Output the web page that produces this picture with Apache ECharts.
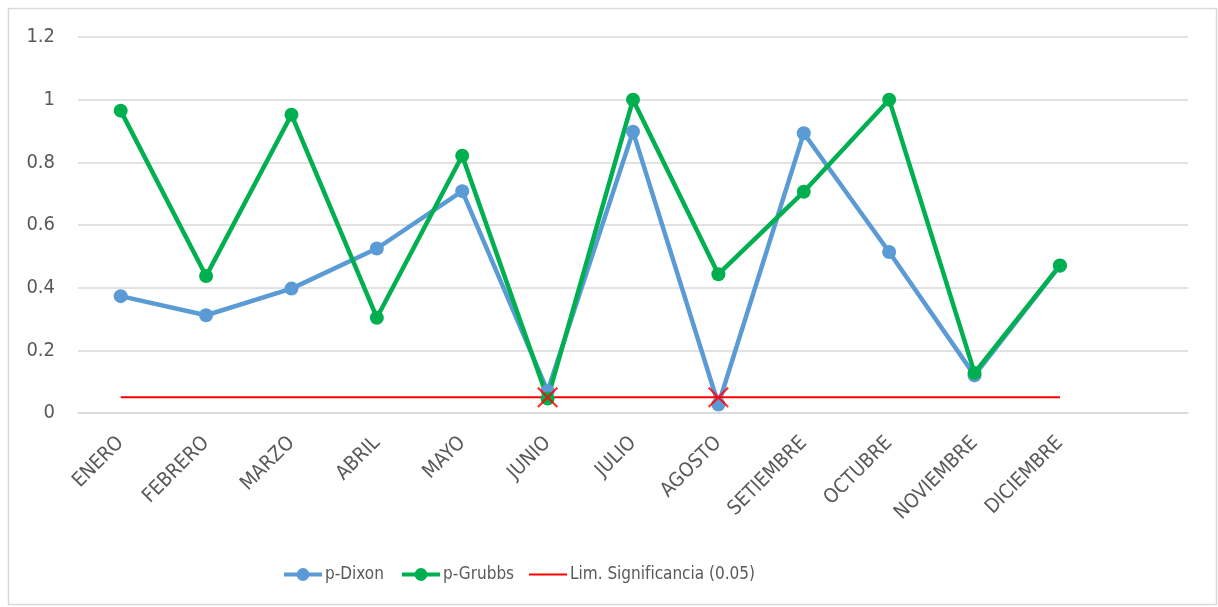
<!DOCTYPE html>
<html lang="es">
  <head>
    <meta charset="UTF-8">
    <title>p-Dixon / p-Grubbs</title>
    <script src="https://cdn.jsdelivr.net/npm/echarts@6/dist/echarts.min.js"></script>
    <style>
      html, body { margin: 0; padding: 0; background: #fff; }
      #main { width: 1218px; height: 607px; }
    </style>
  </head>
  <body>
    <div id="main"></div>
    <script type="text/javascript">
      // meses (la última categoría queda vacía, como en el gráfico original)
      var meses = ['ENERO', 'FEBRERO', 'MARZO', 'ABRIL', 'MAYO', 'JUNIO', 'JULIO',
                   'AGOSTO', 'SETIEMBRE', 'OCTUBRE', 'NOVIEMBRE', 'DICIEMBRE', ''];

      var pDixon   = [0.373, 0.312, 0.397, 0.525, 0.708, 0.07, 0.898, 0.027, 0.893, 0.514, 0.12, 0.47];
      var pGrubbs  = [0.965, 0.437, 0.952, 0.304, 0.821, 0.046, 1.0, 0.443, 0.706, 1.0, 0.128, 0.471];
      var limite   = [0.05, 0.05, 0.05, 0.05, 0.05, 0.05, 0.05, 0.05, 0.05, 0.05, 0.05, 0.05];
      // meses marcados como atípicos (cruz roja sobre el límite)
      var atipicos = [null, null, null, null, null, 0.05, null, 0.05, null, null, null, null];

      var fuente = "'Liberation Sans Narrow', 'DejaVu Sans Condensed', 'Noto Sans', sans-serif";
      var gris = '#595959';
      var cruz = 'path://M1.5,0L10,8.5L18.5,0L20,1.5L11.5,10L20,18.5L18.5,20L10,11.5L1.5,20L0,18.5L8.5,10L0,1.5Z';
      // sólo una línea roja en la leyenda (los M extremos fijan la caja 38x16)
      var iconoLimite = 'path://M0,0M0,7L38,7L38,9L0,9ZM38,16';

      // una leyenda por serie para colocarlas como en el original
      function leyenda(item, x) {
        return {
          data: [item],
          left: x,
          top: 566,
          padding: 0,
          itemWidth: 38,
          itemHeight: 16,
          lineStyle: { width: 4 },
          textStyle: { color: gris, fontSize: 17, fontFamily: fuente, padding: [0, 0, 0, -2] }
        };
      }

      var myChart = echarts.init(document.getElementById('main'));

      var option = {
        backgroundColor: '#fff',
        animation: false,
        textStyle: { fontFamily: fuente },
        graphic: [{
          type: 'rect',
          shape: { x: 8.5, y: 8.5, width: 1208, height: 596 },
          style: { fill: 'none', stroke: '#d9d9d9', lineWidth: 1.5 },
          silent: true
        }],
        grid: { left: 78, right: 30, top: 37, bottom: 194 },
        legend: [
          leyenda('p-Dixon', 282),
          leyenda('p-Grubbs', 400),
          leyenda({ name: 'Lim. Significancia (0.05)', icon: iconoLimite }, 529)
        ],
        xAxis: {
          type: 'category',
          data: meses,
          boundaryGap: true,
          axisLine: { lineStyle: { color: '#d9d9d9', width: 1.5 } },
          axisTick: { show: false },
          axisLabel: {
            interval: 0,
            rotate: 45,
            margin: 27,
            color: gris,
            fontSize: 20,
            fontFamily: fuente
          }
        },
        yAxis: {
          type: 'value',
          min: 0,
          max: 1.2,
          interval: 0.2,
          axisLine: { show: false },
          axisTick: { show: false },
          splitLine: { lineStyle: { color: '#d9d9d9', width: 1.5 } },
          axisLabel: { color: gris, fontSize: 20, margin: 23, fontFamily: fuente }
        },
        series: [
          {
            name: 'p-Dixon',
            type: 'line',
            data: pDixon,
            symbol: 'circle',
            symbolSize: 14,
            lineStyle: { color: '#5b9bd5', width: 4.5 },
            itemStyle: { color: '#5b9bd5' }
          },
          {
            name: 'p-Grubbs',
            type: 'line',
            data: pGrubbs,
            symbol: 'circle',
            symbolSize: 14,
            lineStyle: { color: '#00b050', width: 4.5 },
            itemStyle: { color: '#00b050' }
          },
          {
            name: 'Lim. Significancia (0.05)',
            type: 'line',
            data: limite,
            symbol: 'none',
            lineStyle: { color: '#ff0000', width: 2 },
            itemStyle: { color: '#ff0000' }
          },
          {
            name: 'atipicos',
            type: 'scatter',
            data: atipicos,
            symbol: cruz,
            symbolSize: 21,
            itemStyle: { color: '#ff0000' },
            z: 5
          }
        ]
      };

      myChart.setOption(option);
    </script>
  </body>
</html>
